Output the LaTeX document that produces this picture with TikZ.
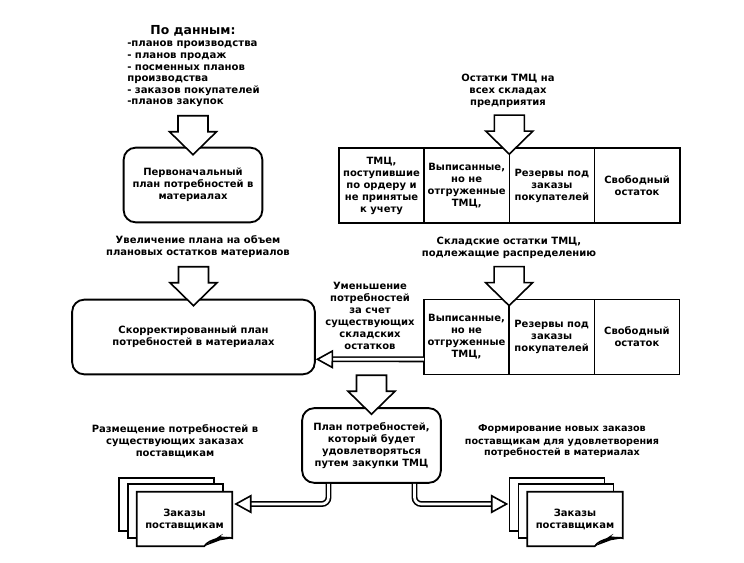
\documentclass[tikz,border=0pt]{standalone}
\usepackage{fontspec}
\setmainfont{DejaVu Sans}
\usetikzlibrary{calc,positioning,arrows.meta}
\tikzset{
  lbl/.style={font=\bfseries\fontsize{7.5}{9}\selectfont, align=center, inner sep=0pt},
  plan/.style={lbl, draw, line width=1.4pt, rounded corners=9pt, fill=white},
  cell/.style={lbl, draw, line width=1.2pt, outer sep=0pt, minimum width=63.9pt, minimum height=56pt},
  blockline/.style={draw, line width=1.2pt, fill=white, line join=miter},
  dblline/.style={double, double distance=2pt, line width=1.2pt},
  sheet/.style={lbl, minimum width=71.2pt, minimum height=40.5pt, fill=white},
}
% block arrow, given by its tip
\newcommand{\blockdown}[1]{\draw[blockline] #1 +(-15,-39) -- +(15,-39) -- +(15,-23) -- +(23.5,-23) -- +(0,0) -- +(-23.5,-23) -- +(-15,-23) -- cycle;}
% three sheets, name and centre of the front one
\newcommand{\ordersheets}[3]{
  \draw[line width=1.2pt, fill=white] (#2-65.5,#3-41) rectangle (#2+29.5,#3+12);
  \draw[line width=1.2pt, fill=white] (#2-56.5,#3-35) rectangle (#2+38.5,#3+19);
  \node[sheet] (#1) at (#2,#3) {Заказы\\поставщикам};
  \draw[line width=1.2pt] (#1.north west) -- (#1.north east) -- ($(#1.south east)+(0,-8)$)
    .. controls +(-5,-2) and +(5,-8) .. ($(#1.south east)+(-28,0)$) -- (#1.south west) -- cycle;
  \fill ($(#1.south east)+(-28,0)$) .. controls +(6,-4) and +(10,-8) .. ($(#1.south east)+(-12,-10)$)
    -- ($(#1.south east)+(0,-8)$) -- ($(#1.south east)+(-12,-6)$) -- cycle;
}
\begin{document}
\begin{tikzpicture}[x=0.75pt, y=-0.75pt]
  \useasboundingbox (0,0) rectangle (744,563);
  % top left
  \node[lbl, font=\bfseries\fontsize{9.3}{10}\selectfont] (src) at (193,31) {По данным:};
  \node[lbl, align=left, anchor=north west, font=\bfseries\fontsize{7.6}{8.7}\selectfont] (srclist) at (127,41)
    {-планов производства\\- планов продаж\\- посменных планов\\производства\\- заказов покупателей\\-планов закупок};
  \node[plan, minimum width=104pt, minimum height=56pt] (plan1) at (193,185) {Первоначальный\\план потребностей в\\материалах};
  \blockdown{($(plan1.north)+(0,8)$)}
  \node[lbl] (up) at (198,247) {Увеличение плана на объем\\плановых остатков материалов};

  % top right
  \node[lbl] (stock) at (508,91) {Остатки ТМЦ на\\всех складах\\предприятия};
  \node[cell] (t1a) at (381.5,185.5) {ТМЦ,\\поступившие\\по ордеру и\\не принятые\\к учету};
  \node[cell, right=0pt of t1a] (t1b) {Выписанные,\\но не\\отгруженные\\ТМЦ,};
  \node[cell, right=0pt of t1b] (t1c) {Резервы под\\заказы\\покупателей};
  \node[cell, right=0pt of t1c] (t1d) {Свободный\\остаток};
  \blockdown{($(t1b.north east)+(0,6)$)}
  \node[lbl] (rest) at (509,248) {Складские остатки ТМЦ,\\подлежащие распределению};

  % middle
  \node[plan, minimum width=182pt, minimum height=56pt] (plan2) at (193.5,337) {Скорректированный план\\потребностей в материалах};
  \blockdown{($(plan2.north)+(0,7)$)}
  \node[cell] (t2b) at (466.5,337) {Выписанные,\\но не\\отгруженные\\ТМЦ,};
  \node[cell, right=0pt of t2b] (t2c) {Резервы под\\заказы\\покупателей};
  \node[cell, right=0pt of t2c] (t2d) {Свободный\\остаток};
  \blockdown{($(t2b.north east)+(0,6)$)}
  \node[lbl] (down) at (370,316) {Уменьшение\\потребностей\\за счет\\существующих\\складских\\остатков};
  \draw[dblline, -{Triangle[open, length=13pt, width=14pt, line width=1.2pt]}]
    ($(t2b.south west)+(0,-15)$) -- ($(plan2.south east)+(0,-16)$);

  % bottom
  \node[plan, minimum width=104pt, minimum height=56pt] (plan3) at (371.5,445.5) {План потребностей,\\который будет\\удовлетворяться\\путем закупки ТМЦ};
  \blockdown{($(plan3.north)+(0,7)$)}
  \node[lbl] (place) at (175,441.5) {Размещение потребностей в\\существующих заказах\\поставщикам};
  \node[lbl, font=\bfseries\fontsize{7.2}{9}\selectfont] (form) at (562,441.5) {Формирование новых заказов\\поставщикам для удовлетворения\\потребностей в материалах};
  \ordersheets{ordl}{184.5}{519}
  \ordersheets{ordr}{575}{519}
  \draw[dblline, rounded corners=5pt, -{Triangle[open, length=13pt, width=14pt, line width=1.2pt]}]
    ($(plan3.south)+(-43,0)$) |- ($(ordl.east)+(2,-15)$);
  \draw[dblline, rounded corners=5pt, -{Triangle[open, length=13pt, width=14pt, line width=1.2pt]}]
    ($(plan3.south)+(43,0)$) |- ($(ordr.west)+(-19,-15)$);
\end{tikzpicture}
\end{document}
